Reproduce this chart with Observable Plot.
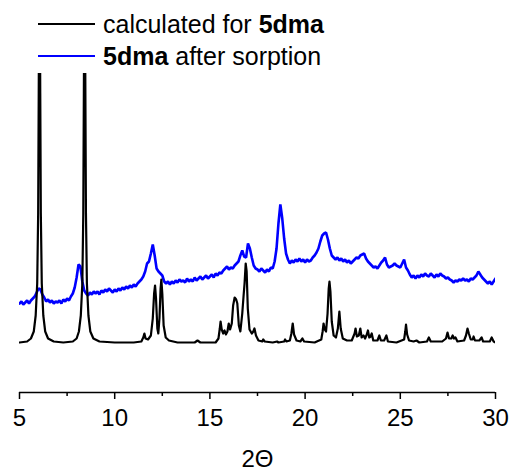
<!DOCTYPE html>
<html>
<head>
<meta charset="utf-8">
<script src="https://cdn.jsdelivr.net/npm/d3@7"></script>
<script src="https://cdn.jsdelivr.net/npm/@observablehq/plot@0.6"></script>
<style>
  html, body { margin: 0; padding: 0; background: white; }
  #wrap { position: relative; width: 513px; height: 471px; font-family: "Liberation Sans", Arial, sans-serif; }
  #legend { position: absolute; left: 0; top: 0; }
</style>
</head>
<body>
<div id="wrap">
  <div id="chart"></div>
  <svg id="legend" width="513" height="72" font-family="Liberation Sans, Arial, sans-serif" font-size="25">
    <line x1="38" x2="95" y1="24" y2="24" stroke="black" stroke-width="2"></line>
    <text x="103" y="33" fill="black">calculated for <tspan font-weight="bold">5dma</tspan></text>
    <line x1="38" x2="95" y1="56" y2="56" stroke="#0000ff" stroke-width="2"></line>
    <text x="103" y="65" fill="black"><tspan font-weight="bold">5dma</tspan> after sorption</text>
  </svg>
</div>
<script>
// Calculated pattern (2θ, intensity)
const calcAngle = [
  5.0, 5.4, 5.6, 5.75, 5.85, 5.93, 5.98, 6.01, 6.05, 6.09, 6.12, 6.17, 6.25, 6.35, 6.5, 6.8, 7.3,
  7.8, 8.0, 8.12, 8.22, 8.3, 8.35, 8.38, 8.42, 8.46, 8.49, 8.54, 8.62, 8.72, 8.88, 9.2, 10.0, 11.0,
  11.4, 11.5, 11.56, 11.62, 11.75, 11.9, 12.0, 12.07, 12.12, 12.17, 12.24, 12.29, 12.35, 12.41, 12.45, 12.5, 12.57, 12.68, 12.85, 13.3,
  14.2, 14.35, 14.5, 15.3, 15.45, 15.52, 15.56, 15.62, 15.7, 15.77, 15.84, 15.92, 15.99, 16.06, 16.15, 16.22, 16.3, 16.38, 16.44, 16.52, 16.6,
  16.7, 16.77, 16.82, 16.88, 16.93, 16.99, 17.08, 17.2, 17.28, 17.34, 17.42, 17.55, 17.75, 17.8, 17.88, 18.3, 18.53, 18.6,
  18.9, 18.95, 19.02, 19.2, 19.28, 19.35, 19.42, 19.55, 19.75, 19.86, 19.95, 20.5,
  20.85, 20.92, 20.97, 21.03, 21.1, 21.18, 21.24, 21.28, 21.33, 21.4, 21.5, 21.62, 21.72, 21.8, 21.87, 21.98, 22.2,
  22.45, 22.6, 22.65, 22.72, 22.82, 22.9, 22.97, 23.07, 23.15, 23.22, 23.3, 23.37, 23.44, 23.5, 23.58, 23.8, 23.9, 23.98, 24.15, 24.27, 24.35, 24.8,
  25.2, 25.26, 25.3, 25.36, 25.46, 25.7, 25.85, 26.0, 26.4, 26.5, 26.6,
  27.2, 27.4, 27.48, 27.56, 27.68, 27.75, 27.82, 27.9, 28.0, 28.35, 28.45, 28.53, 28.6, 28.7, 28.8, 28.85, 28.92,
  29.15, 29.27, 29.35, 29.7, 29.8, 29.9, 30.0
];
const calcIntensity = [
  1, 2, 5, 12, 28, 60, 130, 250, 420, 250, 130, 60, 28, 12, 5, 2, 1,
  2, 5, 12, 28, 60, 130, 250, 420, 250, 130, 60, 28, 12, 5, 2, 1, 1,
  2, 6, 10, 5, 4, 8, 25, 50, 58, 45, 15, 10, 25, 55, 64, 50, 18, 6, 3, 1,
  1, 3, 1, 1, 5, 15, 22, 14, 10, 13, 9, 12, 20, 14, 20, 38, 46, 44, 40, 18, 12,
  30, 48, 60, 80, 72, 35, 14, 10, 12, 15, 8, 3, 2, 4, 2, 1, 2, 1,
  2, 4, 2, 3, 10, 20, 9, 3, 2, 5, 2, 1,
  4, 12, 20, 14, 12, 30, 55, 62, 52, 22, 8, 6, 15, 32, 15, 5, 3,
  3, 10, 15, 7, 8, 15, 6, 8, 5, 8, 13, 6, 7, 10, 3, 3, 8, 3, 3, 8, 2, 1,
  4, 12, 19, 9, 3, 2, 3, 1, 2, 6, 2,
  2, 5, 11, 5, 5, 8, 5, 6, 2, 3, 8, 15, 10, 4, 4, 7, 3,
  3, 6, 2, 2, 6, 2, 1
];

// Measured pattern after sorption: recorded from 5° in 0.1° steps
const expStart = 5;
const expStep = 0.1;
const expIntensity = [
  40, 42, 39, 41, 43, 40, 43, 45, 47, 51,
  55, 54, 49, 46, 42, 44, 41, 43, 40, 42,
  41, 43, 40, 44, 42, 45, 43, 47, 50, 56,
  66, 79, 77, 62, 53, 50, 48, 51, 49, 52,
  50, 52, 49, 53, 51, 54, 52, 55, 53, 51,
  54, 52, 55, 53, 56, 54, 57, 55, 58, 56,
  59, 57, 60, 62, 64, 67, 72, 80, 82, 90,
  99, 88, 75, 72, 70, 68, 62, 60, 62, 59,
  62, 60, 63, 61, 64, 62, 63, 61, 65, 62,
  64, 62, 66, 63, 65, 67, 64, 66, 68, 65,
  67, 69, 66, 70, 68, 71, 70, 73, 75, 77,
  74, 76, 75, 78, 80, 82, 88, 93, 87, 86,
  100, 95, 86, 78, 75, 74, 72, 75, 73, 71,
  74, 72, 76, 75, 82, 95, 120, 139, 125, 105,
  90, 84, 80, 83, 81, 84, 82, 85, 82, 84,
  81, 84, 82, 83, 86, 88, 91, 95, 102, 108,
  110, 111, 104, 95, 88, 86, 84, 86, 83, 85,
  82, 84, 81, 83, 80, 82, 84, 86, 85, 88,
  89, 90, 85, 82, 80, 78, 76, 77, 75, 78,
  81, 83, 86, 79, 76, 77, 78, 80, 78, 77,
  76, 80, 84, 76, 73, 69, 66, 68, 65, 68,
  66, 69, 67, 70, 68, 67, 70, 68, 66, 69,
  67, 70, 68, 67, 65, 66, 64, 63, 61, 63,
  62, 64, 63, 65, 63, 64, 62, 65, 64, 66,
  68, 72, 69, 66, 64, 62, 60, 62, 59, 62,
  65
];

const xDomain = [5, 30];
const yDomain = [-49, 270];
const xTicks = [5, 10, 15, 20, 25, 30];
const xMinorTicks = [7.5, 12.5, 17.5, 22.5, 27.5];

const calc = calcAngle.map((a, i) => ({angle: a, intensity: calcIntensity[i]}));
const exp = expIntensity.map((v, i) => ({angle: +(expStart + i * expStep).toFixed(2), intensity: v}));

const chart = Plot.plot({
  width: 513,
  height: 471,
  marginTop: 73,
  marginBottom: 79,
  marginLeft: 19,
  marginRight: 18,
  style: {fontFamily: "Liberation Sans, Arial, sans-serif", fontSize: "24px", color: "black", background: "white", overflow: "visible"},
  x: {domain: xDomain},
  y: {domain: yDomain, axis: null},
  marks: [
    Plot.line(exp, {x: "angle", y: "intensity", stroke: "#0000ff", strokeWidth: 2.6, strokeLinejoin: "miter", clip: true}),
    Plot.line(calc, {x: "angle", y: "intensity", stroke: "black", strokeWidth: 2.2, clip: true}),
    Plot.ruleY([yDomain[0]], {stroke: "black", strokeWidth: 1.5}),
    Plot.axisX(xMinorTicks, {tickSize: 4, tickFormat: () => "", label: null, strokeWidth: 1.5}),
    Plot.axisX(xTicks, {tickSize: 7, tickPadding: 9, fontSize: 24, strokeWidth: 1.5, label: "2Θ", labelAnchor: "center", labelOffset: 74, labelArrow: "none"})
  ]
});
document.getElementById("chart").appendChild(chart);
</script>
</body>
</html>
